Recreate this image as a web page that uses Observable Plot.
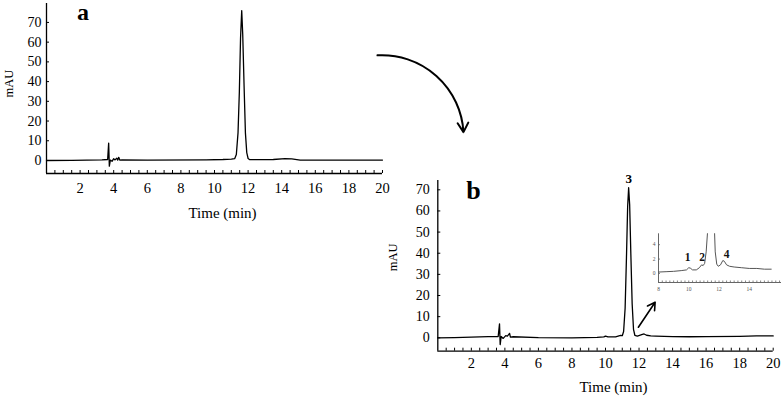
<!DOCTYPE html>
<html><head><meta charset="utf-8">
<script src="https://cdn.jsdelivr.net/npm/d3@7"></script>
<script src="https://cdn.jsdelivr.net/npm/@observablehq/plot@0.6"></script>
<style>
html,body{margin:0;padding:0;background:#fff;}
#wrap{position:relative;width:783px;height:398px;overflow:hidden;}
.panel{position:absolute;}
.panel svg{background:none !important;overflow:visible;display:block;}
</style></head><body>
<div id="wrap">
  <div id="pa" class="panel" style="left:0px;top:0px"></div>
  <div id="pb" class="panel" style="left:380px;top:160px"></div>
  <div id="pi" class="panel" style="left:640px;top:225px"></div>
</div>
<script>
// ---------- data ----------
// Panel a chromatogram: retention time (min) and absorbance (mAU)
const timeA = [0, 1.5, 3.3, 3.64, 3.70, 3.74, 3.80, 3.90, 4.00, 4.08, 4.18, 4.24, 4.30, 4.36, 4.5, 6, 9.5, 10.5, 11.0, 11.2, 11.30, 11.40, 11.48, 11.55, 11.62, 11.68, 11.76, 11.84, 11.92, 12.00, 12.1, 13.5, 14.2, 14.6, 15.1, 17, 20];
const mauA  = [0, 0.1, 0.3, 0.5, 8.8, -2.9, 0.2, -0.4, 0.9, 0.3, 1.2, 0.2, 1.6, 0.2, 0.3, 0.2, 0.3, 0.5, 0.7, 0.9, 3, 14, 35, 62, 76, 64, 38, 14, 4, 1, 0.4, 0.5, 0.9, 0.8, 0.2, 0.2, 0.2];

// Panel b chromatogram
const timeB = [0, 1, 2, 3, 3.6, 3.68, 3.72, 3.78, 3.90, 4.05, 4.15, 4.28, 4.33, 4.5, 6, 8, 9.5, 9.9, 10.0, 10.15, 10.6, 10.9, 11.0, 11.08, 11.17, 11.25, 11.32, 11.38, 11.44, 11.51, 11.59, 11.67, 11.75, 11.9, 12.2, 12.3, 12.45, 12.7, 13, 14, 15, 16, 18, 19, 20];
const mauB  = [0, 0.1, 0.3, 0.6, 0.6, 6.6, -3.2, 0.6, -0.3, 1.0, 0.8, 2.1, 0.3, 0.5, 0.1, 0.0, 0.2, 0.4, 0.8, 0.4, 0.4, 1.1, 1.0, 3, 14, 38, 62, 71, 63, 40, 16, 4, 1.2, 0.8, 1.6, 1.8, 1.2, 0.9, 0.8, 0.6, 0.5, 0.6, 0.7, 0.9, 0.9];

// Inset (zoom of panel b, 8–15.5 min)
const timeInset = [8.0, 8.5, 9.0, 9.5, 9.85, 10.0, 10.1, 10.25, 10.5, 10.7, 10.85, 10.95, 11.05, 11.15, 11.25, 11.4, 11.55, 11.7, 11.75, 11.85, 11.95, 12.1, 12.25, 12.35, 12.5, 12.7, 13.0, 13.5, 14.0, 14.5, 15.0, 15.45];
const mauInset  = [0.2, 0.25, 0.3, 0.4, 0.5, 0.8, 0.75, 0.5, 0.5, 0.8, 1.2, 1.1, 1.4, 3.0, 6.0, 30, 30, 6.0, 3.0, 1.3, 1.0, 1.2, 1.8, 1.7, 1.2, 1.0, 0.9, 0.8, 0.7, 0.7, 0.6, 0.6];

// Tick labels
const xTickLabels = [2, 4, 6, 8, 10, 12, 14, 16, 18, 20];
const yTickLabels = [0, 10, 20, 30, 40, 50, 60, 70];
const xMinorTicks = d3.range(0.5, 20.01, 0.5);
const insetXTickLabels = [8, 10, 12, 14];
const insetYTickLabels = [0, 2, 4];
const insetXMinorTicks = d3.range(8.25, 16.01, 0.25);

// Annotations (in each panel's data units)
const peakNames = ["1", "2", "4"];
const peakTimes = [9.93, 10.89, 12.51];
const peakLabelMAU = [2.2, 2.26, 2.68];
const mainPeakName = ["3"];
const mainPeakTime = [11.39];
const mainPeakLabelMAU = [75.4];
const mauLabelA = [39];   // centre of the rotated "mAU" label, panel a
const mauLabelB = [38];   // panel b
const curvedArrow = [{t1: 19.7, v1: 53.3, t2: 24.82, v2: 14.36}]; // from panel a towards panel b
const zoomArrow = [{t1: 11.96, v1: 5.0, t2: 12.96, v2: 16.8}];    // panel b, pointing to inset

// ---------- build tables ----------
const traceA = timeA.map((t, i) => ({t, v: mauA[i]}));
const traceB = timeB.map((t, i) => ({t, v: mauB[i]}));
const traceI = timeInset.map((t, i) => ({t, v: mauInset[i]}));
const peaks = peakNames.map((n, i) => ({n, t: peakTimes[i], v: peakLabelMAU[i]}));
const mainPeak = mainPeakName.map((n, i) => ({n, t: mainPeakTime[i], v: mainPeakLabelMAU[i]}));

const serif = "Liberation Serif, Times New Roman, serif";
const baseStyle = {background: "none", fontFamily: serif, overflow: "visible", color: "black"};

function chromPanel({width, height, ml, mr, mt, mb, yDomain, trace, letter, letterSize, letterDx, letterDy, tickDy, labelDy, yLabelDx, mauDx, mauY, extra}) {
  const fw = width - ml - mr, fh = height - mt - mb;
  return Plot.plot({
    width, height, marginLeft: ml, marginRight: mr, marginTop: mt, marginBottom: mb,
    x: {domain: [0, 20], axis: null},
    y: {domain: yDomain, axis: null},
    style: baseStyle,
    marks: [
      Plot.ruleX([0], {stroke: "black", strokeWidth: 1.3}),
      Plot.ruleY([yDomain[0]], {stroke: "black", strokeWidth: 1.3}),
      Plot.tickX(xMinorTicks, {x: d => d, insetTop: fh - 3, stroke: "black", strokeWidth: 1}),
      Plot.tickY(yTickLabels, {y: d => d, insetRight: fw - 3, stroke: "black", strokeWidth: 1}),
      Plot.text(xTickLabels, {x: d => d, frameAnchor: "bottom", lineAnchor: "middle", textAnchor: "middle", dy: tickDy, fontSize: 14.5, fontFamily: serif, fill: "black"}),
      Plot.text(yTickLabels, {y: d => d, frameAnchor: "left", lineAnchor: "middle", textAnchor: "end", dx: yLabelDx, fontSize: 14, fontFamily: serif, fill: "black"}),
      Plot.text(["Time (min)"], {frameAnchor: "bottom", lineAnchor: "middle", textAnchor: "middle", dy: labelDy, dx: 8, fontSize: 15, fontFamily: serif, fill: "black"}),
      Plot.text(mauY, {y: d => d, text: () => "mAU", frameAnchor: "left", lineAnchor: "middle", textAnchor: "middle", dx: mauDx, rotate: -90, fontSize: 12.5, fontFamily: serif, fill: "black"}),
      Plot.line(trace, {x: "t", y: "v", stroke: "black", strokeWidth: 1.3}),
      Plot.text([letter], {frameAnchor: "top-left", lineAnchor: "top", textAnchor: "middle", dx: letterDx, dy: letterDy, fontSize: letterSize, fontWeight: "bold", fontFamily: serif, fill: "black"}),
      ...extra
    ]
  });
}

const chartA = chromPanel({
  width: 480, height: 230, ml: 46, mr: 98, mt: 3, mb: 57,
  yDomain: [-6.6, 79.6], trace: traceA, letter: "a", letterSize: 24, letterDx: 36.5, letterDy: -0.5,
  tickDy: 14.7, labelDy: 40, yLabelDx: -5, mauDx: -38, mauY: mauLabelA,
  extra: [
    Plot.arrow(curvedArrow, {x1: "t1", y1: "v1", x2: "t2", y2: "v2", bend: 45, stroke: "black", strokeWidth: 2, headLength: 8})
  ]
});
document.getElementById("pa").appendChild(chartA);

const chartB = chromPanel({
  width: 403, height: 238, ml: 57.3, mr: 10.3, mt: 20, mb: 47.3,
  yDomain: [-6.34, 74.4], trace: traceB, letter: "b", letterSize: 26, letterDx: 35.7, letterDy: 0,
  tickDy: 12, labelDy: 35.5, yLabelDx: -8, mauDx: -44.5, mauY: mauLabelB,
  extra: [
    Plot.text(mainPeak, {x: "t", y: "v", text: "n", fontSize: 13, fontWeight: "bold", fontFamily: serif, fill: "black"}),
    Plot.arrow(zoomArrow, {x1: "t1", y1: "v1", x2: "t2", y2: "v2", stroke: "black", strokeWidth: 1.6, headLength: 8})
  ]
});
document.getElementById("pb").appendChild(chartB);

// Inset
const iW = 143, iH = 70, iML = 18, iMR = 2, iMT = 8.3, iMB = 13;
const chartI = Plot.plot({
  width: iW, height: iH, marginLeft: iML, marginRight: iMR, marginTop: iMT, marginBottom: iMB,
  x: {domain: [8, 16.13], axis: null},
  y: {domain: [-1.25, 5.51], axis: null},
  style: baseStyle,
  marks: [
    Plot.ruleX([8], {stroke: "#555", strokeWidth: 0.9}),
    Plot.ruleY([-1.25], {stroke: "#555", strokeWidth: 0.9}),
    Plot.tickX(insetXMinorTicks, {x: d => d, insetTop: (iH - iMT - iMB) - 1.5, stroke: "#666", strokeWidth: 0.8}),
    Plot.tickY(insetYTickLabels, {y: d => d, insetRight: (iW - iML - iMR) - 2, stroke: "#666", strokeWidth: 0.8}),
    Plot.text(insetXTickLabels, {x: d => d, frameAnchor: "bottom", lineAnchor: "middle", dy: 7, fontSize: 5.5, fontFamily: serif, fill: "#555"}),
    Plot.text(insetYTickLabels, {y: d => d, frameAnchor: "left", lineAnchor: "middle", textAnchor: "end", dx: -3, fontSize: 5.5, fontFamily: serif, fill: "#555"}),
    Plot.line(traceI, {x: "t", y: "v", stroke: "#555", strokeWidth: 1, clip: true}),
    Plot.text(peaks, {x: "t", y: "v", text: "n", fontSize: 11.5, fontWeight: "bold", fontFamily: serif, fill: "#111"})
  ]
});
document.getElementById("pi").appendChild(chartI);
</script>
</body></html>
